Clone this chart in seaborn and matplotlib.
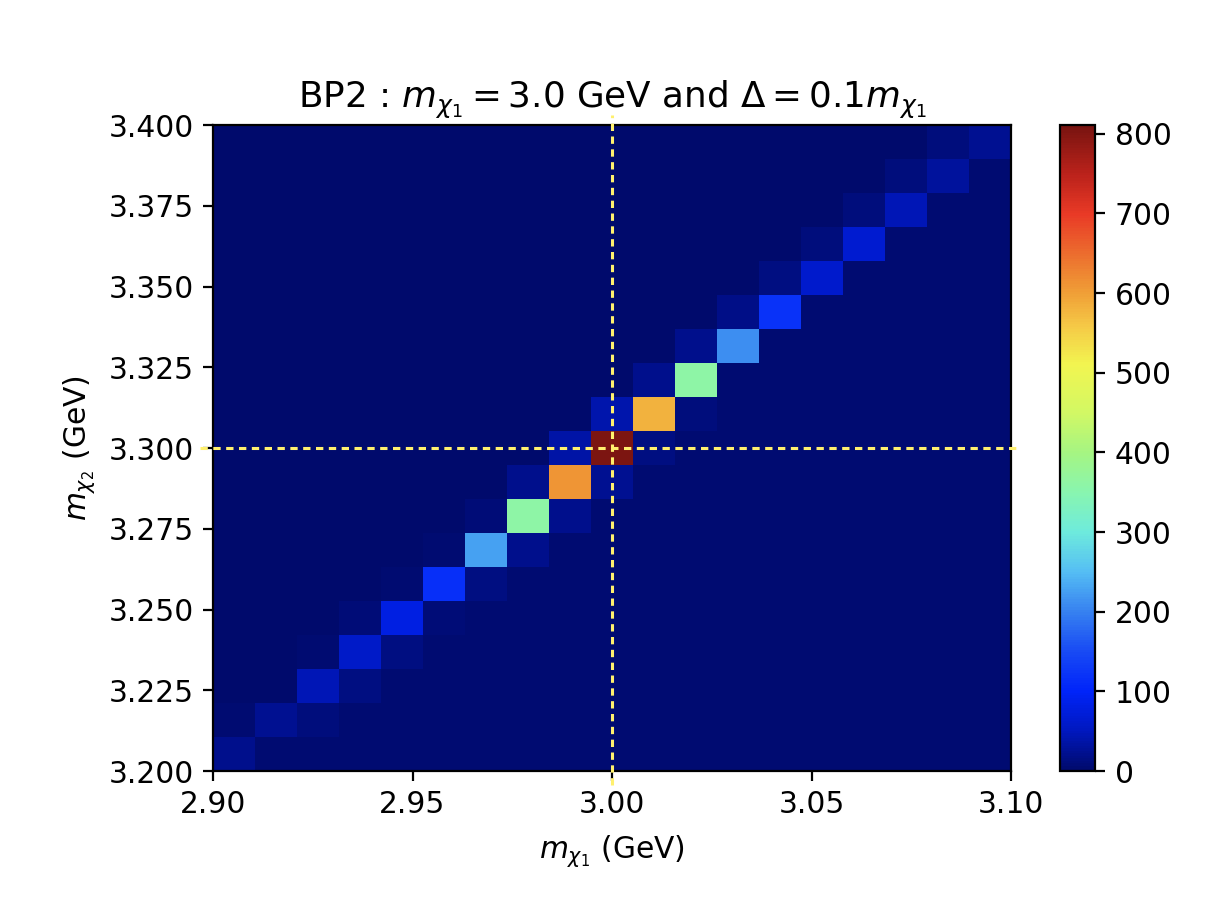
import numpy as np
import pandas as pd
import matplotlib
matplotlib.use("Agg")
import matplotlib.pyplot as plt
from matplotlib.colors import LinearSegmentedColormap
import seaborn as sns

# bin edges (19 x 19 bins)
x_edges = np.linspace(2.90, 3.10, 20)
y_edges = np.linspace(3.20, 3.40, 20)

# counts per cell, first line = top row (m_chi2 ~ 3.40), last line = bottom row
counts_top_down = [
    [2, 2, 2, 2, 2, 2, 2, 2, 2, 2, 2, 2, 2, 2, 2, 2, 2, 10, 25],
    [2, 2, 2, 2, 2, 2, 2, 2, 2, 2, 2, 2, 2, 2, 2, 2, 12, 30, 5],
    [2, 2, 2, 2, 2, 2, 2, 2, 2, 2, 2, 2, 2, 2, 2, 10, 45, 5, 4],
    [2, 2, 2, 2, 2, 2, 2, 2, 2, 2, 2, 2, 2, 2, 10, 65, 5, 4, 4],
    [2, 2, 2, 2, 2, 2, 2, 2, 2, 2, 2, 2, 2, 14, 62, 5, 4, 4, 4],
    [2, 2, 2, 2, 2, 2, 2, 2, 2, 2, 2, 2, 18, 120, 6, 4, 4, 4, 4],
    [2, 2, 2, 2, 2, 2, 2, 2, 2, 2, 2, 22, 210, 6, 4, 4, 4, 4, 4],
    [2, 2, 2, 2, 2, 2, 2, 2, 2, 2, 22, 360, 6, 4, 4, 4, 4, 4, 4],
    [2, 2, 2, 2, 2, 2, 2, 2, 2, 40, 580, 10, 4, 4, 4, 4, 4, 4, 4],
    [2, 2, 2, 2, 2, 2, 2, 2, 35, 805, 15, 4, 4, 4, 4, 4, 4, 4, 4],
    [2, 2, 2, 2, 2, 2, 2, 22, 610, 25, 4, 4, 4, 4, 4, 4, 4, 4, 4],
    [2, 2, 2, 2, 2, 2, 8, 360, 22, 4, 4, 4, 4, 4, 4, 4, 4, 4, 4],
    [2, 2, 2, 2, 2, 6, 225, 22, 4, 4, 4, 4, 4, 4, 4, 4, 4, 4, 4],
    [2, 2, 2, 2, 5, 115, 15, 4, 4, 4, 4, 4, 4, 4, 4, 4, 4, 4, 4],
    [2, 2, 2, 7, 80, 8, 4, 4, 4, 4, 4, 4, 4, 4, 4, 4, 4, 4, 4],
    [2, 2, 4, 60, 15, 4, 4, 4, 4, 4, 4, 4, 4, 4, 4, 4, 4, 4, 4],
    [2, 3, 45, 15, 4, 4, 4, 4, 4, 4, 4, 4, 4, 4, 4, 4, 4, 4, 4],
    [5, 25, 10, 4, 4, 4, 4, 4, 4, 4, 4, 4, 4, 4, 4, 4, 4, 4, 4],
    [22, 6, 4, 4, 4, 4, 4, 4, 4, 4, 4, 4, 4, 4, 4, 4, 4, 4, 4],
]

m1_ref = 3.00
m2_ref = 3.30

# softened jet-like colour scale
cmap = LinearSegmentedColormap.from_list("soft_jet", [
    (0.000, "#000a6c"),
    (0.062, "#0018c0"),
    (0.123, "#0024fa"),
    (0.185, "#194bf4"),
    (0.247, "#3782f0"),
    (0.308, "#55bef4"),
    (0.370, "#6eebdc"),
    (0.430, "#88f5b0"),
    (0.493, "#a5f582"),
    (0.555, "#d2f864"),
    (0.630, "#f2f550"),
    (0.690, "#f5c846"),
    (0.740, "#f0a037"),
    (0.800, "#ec6e2e"),
    (0.863, "#e93a26"),
    (0.925, "#bb221b"),
    (1.000, "#781410"),
])

counts = np.array(counts_top_down[::-1], dtype=float)  # row 0 = bottom
x_mid = 0.5 * (x_edges[:-1] + x_edges[1:])
y_mid = 0.5 * (y_edges[:-1] + y_edges[1:])
xx, yy = np.meshgrid(x_mid, y_mid)
df = pd.DataFrame({"m1": xx.ravel(), "m2": yy.ravel(), "count": counts.ravel()})

plt.rcParams["font.size"] = 10.7

fig = plt.figure(figsize=(6.1, 4.5), dpi=200)
ax = fig.add_axes([0.1746, 0.1433, 0.6541, 0.7178])
cax = fig.add_axes([0.8689, 0.1433, 0.0287, 0.7178])

sns.histplot(data=df, x="m1", y="m2", weights="count",
             bins=(x_edges, y_edges), cmap=cmap,
             vmin=0, vmax=811, thresh=None,
             cbar=True, cbar_ax=cax, ax=ax)

ax.set_xlim(2.90, 3.10)
ax.set_ylim(3.20, 3.40)
ax.set_xticks([2.90, 2.95, 3.00, 3.05, 3.10])
ax.set_yticks([3.200, 3.225, 3.250, 3.275, 3.300, 3.325, 3.350, 3.375, 3.400])
ax.set_xticklabels(["2.90", "2.95", "3.00", "3.05", "3.10"])
ax.set_yticklabels(["3.200", "3.225", "3.250", "3.275", "3.300",
                    "3.325", "3.350", "3.375", "3.400"])

# dashed guide lines through the benchmark point
ax.plot([m1_ref, m1_ref], [3.1957, 3.403], ls="--", dashes=(2.4, 1.8),
        color="#fff06e", lw=1.1, clip_on=False, zorder=5)
ax.plot([2.8967, 3.1018], [m2_ref, m2_ref], ls="--", dashes=(2.4, 1.8),
        color="#fff06e", lw=1.1, clip_on=False, zorder=5)

ax.set_xlabel(r"$m_{\chi_1}$ (GeV)", labelpad=5)
ax.set_ylabel(r"$m_{\chi_2}$ (GeV)")
ax.set_title(r"BP2 : $m_{\chi_1} = 3.0$ GeV and $\Delta = 0.1 m_{\chi_1}$", fontsize=12.9)

cax.set_yticks([0, 100, 200, 300, 400, 500, 600, 700, 800])

fig.savefig("out.png", dpi=200)
